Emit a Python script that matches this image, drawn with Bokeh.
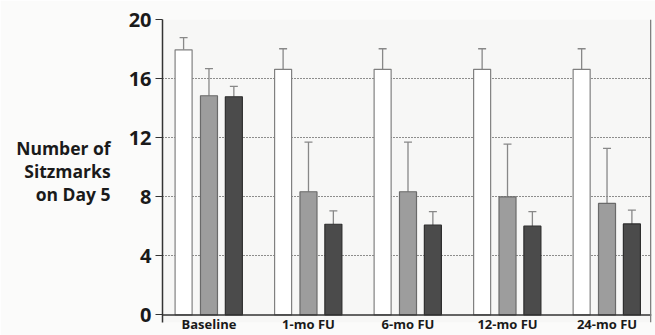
from bokeh.plotting import figure
from bokeh.models import (Range1d, FixedTicker, Whisker, TeeHead, ColumnDataSource, Span)
from bokeh.embed import file_html
from bokeh.resources import INLINE

categories = ["Baseline", "1-mo FU", "6-mo FU", "12-mo FU", "24-mo FU"]
white_vals = [17.95, 16.63, 16.63, 16.63, 16.63]
white_err = [18.77, 18.02, 18.02, 18.02, 18.02]
gray_vals = [14.84, 8.34, 8.34, 8.0, 7.55]
gray_err = [16.68, 11.7, 11.7, 11.57, 11.27]
dark_vals = [14.77, 6.14, 6.08, 6.01, 6.16]
dark_err = [15.48, 7.05, 7.0, 7.0, 7.1]
y_ticks = [0, 4, 8, 12, 16, 20]
y_title = "Number of\nSitzmarks\non Day 5"

FONT = "Open Sans"

p = figure(width=655, height=335, output_backend="svg", toolbar_location=None,
           x_range=Range1d(-0.467, 4.447), y_range=Range1d(-0.51, 20),
           min_border_left=162, min_border_right=4, min_border_top=19,
           min_border_bottom=0)
p.background_fill_color = "#f7f7f6"
p.border_fill_color = "#fbfbfa"
p.outline_line_color = None

# grid
p.xgrid.visible = False
p.ygrid.ticker = FixedTicker(ticks=[4, 8, 12, 16, 20])
p.ygrid.grid_line_color = "#222222"
p.ygrid.grid_line_dash = "1 2"
p.ygrid.grid_line_width = 1

idx = list(range(len(categories)))
groups = [(white_vals, white_err, -0.255, "#ffffff", "#808080"),
          (gray_vals, gray_err, 0.0, "#9d9d9d", "#6a6a6a"),
          (dark_vals, dark_err, 0.25, "#4b4b4b", "#2e2e2e")]
for vals, errs, off, fill, line in groups:
    src = ColumnDataSource(dict(x=[i + off for i in idx], top=vals, err=errs))
    w = Whisker(source=src, base="x", lower="top", upper="err",
                line_color="#888888", line_width=1.3,
                upper_head=TeeHead(size=8, line_color="#888888", line_width=1.3),
                lower_head=None, level="underlay")
    p.add_layout(w)
    p.vbar(x="x", top="top", bottom=0, width=0.171, source=src,
           fill_color=fill, line_color=line, line_width=1.2)

# baseline at 0 and right border
p.add_layout(Span(location=0, dimension="width", line_color="#333333", line_width=1.5))
p.add_layout(Span(location=4.44, dimension="height", line_color="#7a7a7a", line_width=1.5))

# y axis
p.yaxis.ticker = FixedTicker(ticks=y_ticks)
p.yaxis.major_label_text_font = FONT
p.yaxis.major_label_text_font_style = "bold"
p.yaxis.major_label_text_font_size = "20px"
p.yaxis.major_label_text_color = "#1a1a1a"
p.yaxis.axis_line_color = "#333333"
p.yaxis.axis_line_width = 1.5
p.yaxis.major_tick_in = 0
p.yaxis.major_tick_out = 7
p.yaxis.major_tick_line_color = "#333333"
p.yaxis.minor_tick_line_color = None
p.yaxis.minor_tick_out = 0
p.yaxis.major_label_standoff = 4
p.yaxis.axis_label = y_title
p.yaxis.axis_label_orientation = "horizontal"
p.yaxis.axis_label_text_align = "right"
p.yaxis.axis_label_text_font = FONT
p.yaxis.axis_label_text_font_style = "bold"
p.yaxis.axis_label_text_font_size = "17.5px"
p.yaxis.axis_label_text_line_height = 0.97
p.yaxis.axis_label_text_color = "#1a1a1a"
p.yaxis.axis_label_standoff = 15

# x axis
p.xaxis.ticker = FixedTicker(ticks=idx)
p.xaxis.major_label_overrides = {i: c for i, c in zip(idx, categories)}
p.xaxis.major_label_text_font = FONT
p.xaxis.major_label_text_font_style = "bold"
p.xaxis.major_label_text_font_size = "13px"
p.xaxis.major_label_text_color = "#1a1a1a"
p.xaxis.axis_line_color = None
p.xaxis.major_tick_line_color = None
p.xaxis.minor_tick_line_color = None
p.xaxis.major_tick_out = 0
p.xaxis.major_tick_in = 0
p.xaxis.minor_tick_out = 0
p.xaxis.minor_tick_in = 0
p.xaxis.major_label_standoff = -8

open("out.html", "w").write(file_html(p, INLINE))
